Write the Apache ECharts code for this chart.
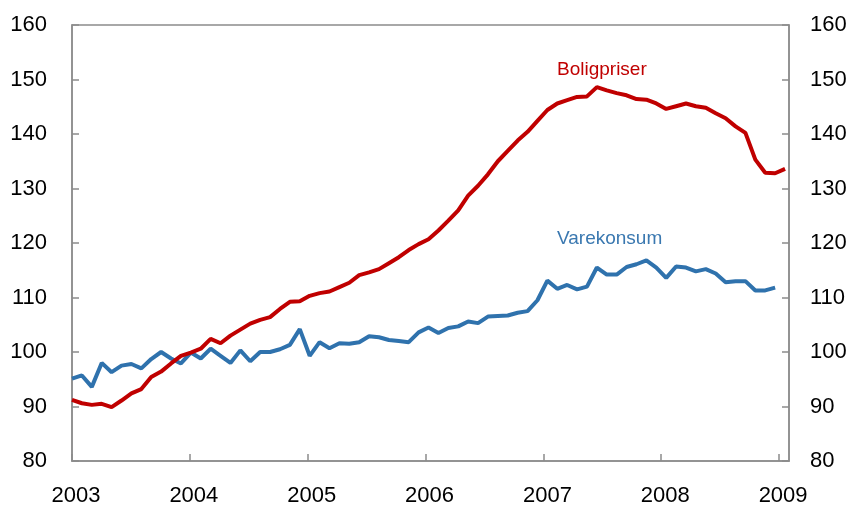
<!DOCTYPE html>
<html>
<head>
<meta charset="utf-8">
<script src="https://cdn.jsdelivr.net/npm/echarts@6/dist/echarts.min.js"></script>
<style>
  html, body { margin: 0; padding: 0; background: #fff; }
  #main { width: 852px; height: 508px; }
</style>
</head>
<body>
<div id="main"></div>
<script>
// monthly index, Jan 2003 = 0
var yearLabels = ['2003', '2004', '2005', '2006', '2007', '2008', '2009'];
var yTicks = [80, 160, 10];   // min, max, step

// Boligpriser, Jan 2003 - Jan 2009
var boligpriser = [
  91.2, 90.6, 90.3, 90.5, 89.9, 91.1, 92.4, 93.2, 95.4, 96.4, 97.9, 99.3,
  99.9, 100.6, 102.4, 101.6, 103.0, 104.1, 105.2, 105.9, 106.4, 107.9, 109.2, 109.3,
  110.3, 110.8, 111.1, 111.9, 112.7, 114.1, 114.6, 115.2, 116.3, 117.4, 118.7, 119.8,
  120.7, 122.3, 124.1, 126.0, 128.7, 130.5, 132.6, 135.0, 136.9, 138.8, 140.4, 142.4,
  144.4, 145.6, 146.2, 146.8, 146.9, 148.6, 148.0, 147.5, 147.1, 146.4, 146.3, 145.6,
  144.6, 145.1, 145.6, 145.1, 144.8, 143.8, 142.9, 141.4, 140.2, 135.3, 132.9, 132.8,
  133.6
];

// Varekonsum, Jan 2003 - Dec 2008
var varekonsum = [
  95.1, 95.7, 93.6, 98.0, 96.3, 97.5, 97.8, 97.0, 98.7, 100.0, 98.8, 97.9,
  99.9, 98.8, 100.6, 99.3, 98.0, 100.3, 98.3, 100.0, 100.0, 100.5, 101.3, 104.2,
  99.3, 101.8, 100.7, 101.6, 101.5, 101.8, 102.9, 102.7, 102.2, 102.0, 101.8, 103.6,
  104.5, 103.5, 104.4, 104.7, 105.6, 105.3, 106.5, 106.6, 106.7, 107.2, 107.5, 109.5,
  113.1, 111.6, 112.3, 111.5, 112.0, 115.5, 114.2, 114.2, 115.6, 116.1, 116.8, 115.5,
  113.6, 115.7, 115.5, 114.8, 115.2, 114.4, 112.8, 113.0, 113.0, 111.3, 111.3, 111.8
];

function pairs(arr) {
  return arr.map(function (v, i) { return [i, v]; });
}

var myChart = echarts.init(document.getElementById('main'));

var yearStep = 11.9;   // year ticks in the source sit a bit tighter than 12 points
var font = '"Liberation Sans", Arial, sans-serif';
var axisGrey = '#8c8c8c';

function yAxisCfg(pos) {
  return {
    type: 'value',
    position: pos,
    min: yTicks[0],
    max: yTicks[1],
    interval: yTicks[2],
    axisLine: { show: true, lineStyle: { color: axisGrey, width: 1.5 } },
    axisTick: { show: true, inside: true, length: 7, lineStyle: { color: axisGrey, width: 1.5 } },
    axisLabel: { color: '#000', fontSize: 22, fontFamily: font, margin: pos === 'left' ? 25 : 21 },
    splitLine: { show: false }
  };
}

option = {
  backgroundColor: '#fff',
  animation: false,
  grid: {
    left: 72, right: 63, top: 25, bottom: 47,
    show: true, borderColor: axisGrey, borderWidth: 1.5
  },
  xAxis: {
    type: 'value',
    min: 0,
    max: 72.4,
    interval: yearStep,
    axisLine: { lineStyle: { color: axisGrey, width: 1.5 } },
    axisTick: { inside: true, length: 7, lineStyle: { color: axisGrey, width: 1.5 } },
    axisLabel: {
      color: '#000', fontSize: 22, fontFamily: font, margin: 24,
      padding: [0, 0, 0, 8],
      showMaxLabel: false,
      formatter: function (v) {
        var k = Math.round(v / yearStep);
        return Math.abs(v - k * yearStep) < 0.01 ? (yearLabels[k] || '') : '';
      }
    },
    splitLine: { show: false }
  },
  yAxis: [yAxisCfg('left'), yAxisCfg('right')],
  graphic: [
    { type: 'text', left: 557, top: 60, style: { text: 'Boligpriser', fill: '#c00000', font: '19px ' + font } },
    { type: 'text', left: 557, top: 229, style: { text: 'Varekonsum', fill: '#3a78b0', font: '19px ' + font } }
  ],
  series: [
    {
      name: 'Varekonsum', type: 'line', yAxisIndex: 0,
      data: pairs(varekonsum), showSymbol: false, symbol: 'none',
      lineStyle: { color: '#2f72ad', width: 4 }, z: 2
    },
    {
      name: 'Boligpriser', type: 'line', yAxisIndex: 0,
      data: pairs(boligpriser), showSymbol: false, symbol: 'none',
      lineStyle: { color: '#c00000', width: 4 }, z: 3
    }
  ]
};
myChart.setOption(option);
</script>
</body>
</html>
